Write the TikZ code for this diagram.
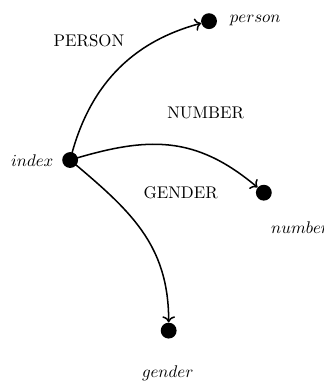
\documentclass[tikz,border=0pt]{standalone}
\usepackage{tikz}
\usetikzlibrary{arrows.meta,positioning}
\tikzset{
  dot/.style={circle,fill=black,inner sep=0pt,minimum size=0.33cm},
  feat/.style={->,line width=0.9pt}
}

\begin{document}
\begin{tikzpicture}
  \useasboundingbox (0,0) rectangle (6.74,-7.97);
  \node[dot] (index) at (1.46,-3.33) {};
  \node[dot] (person) at (4.35,-0.44) {};
  \node[dot] (number) at (5.49,-4.01) {};
  \node[dot] (gender) at (3.51,-6.88) {};
  \node (indexlab) at (0.67,-3.35) {$index$};
  \node[anchor=west] (personlab) at (4.66,-0.42) {$person$};
  \node[anchor=west] (numberlab) at (5.52,-4.74) {$number$};
  \node (genderlab) at (3.49,-7.76) {$gender$};
  \node (PERSON) at (1.85,-0.85) {PERSON};
  \node (NUMBER) at (4.28,-2.35) {NUMBER};
  \node (GENDER) at (3.76,-4.01) {GENDER};
  \draw[feat] (index.center) to[out=76,in=195] (person);
  \draw[feat] (index.center) to[out=17,in=140,looseness=1.1] (number);
  \draw[feat] (index.center) to[out=-40,in=90,looseness=1.05] (gender);
\end{tikzpicture}
\end{document}
